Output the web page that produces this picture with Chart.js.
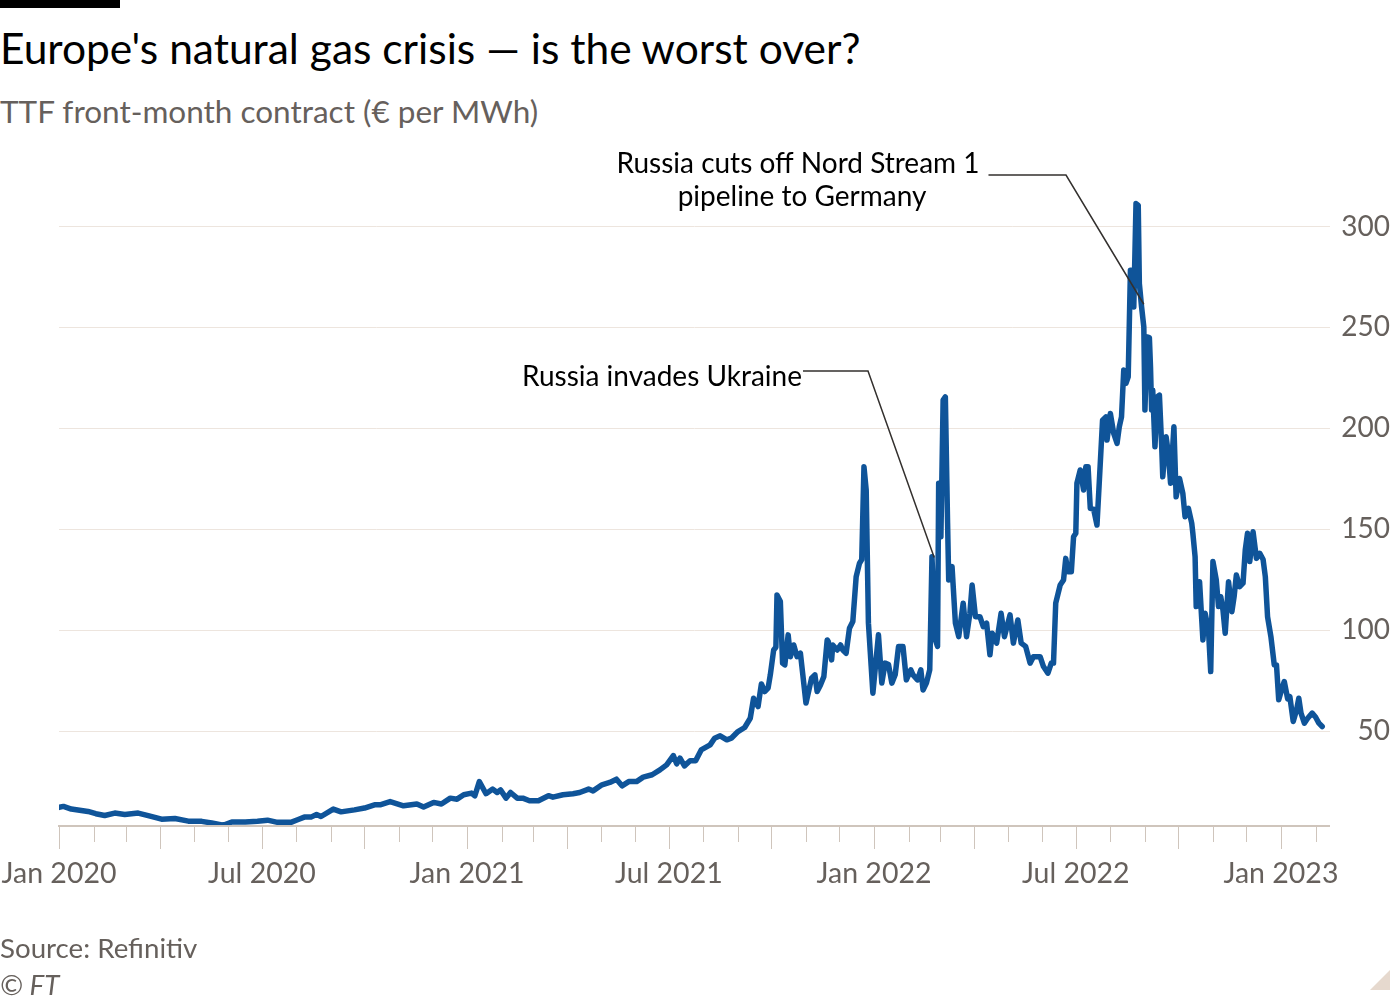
<!DOCTYPE html>
<html>
<head>
<meta charset="utf-8">
<script src="https://cdn.jsdelivr.net/npm/chart.js@4.4.1/dist/chart.umd.min.js"></script>
<style>
  html, body { margin: 0; padding: 0; background: #fff; }
  body { width: 1400px; height: 1000px; position: relative; overflow: hidden; font-family: Lato, "Noto Sans", sans-serif; }
  #chart { position: absolute; left: 0; top: 0; }
  .txt { position: absolute; left: 0; white-space: nowrap; line-height: 1; }
  #bar { position: absolute; left: 0; top: 0; width: 120px; height: 8px; background: #000; }
  #title { top: 27px; font-size: 42.5px; color: #000; }
  #subtitle { top: 96px; font-size: 31.5px; color: #66605c; }
  #source { top: 934px; font-size: 27.7px; color: #66605c; }
  #copy { top: 971px; font-size: 27.7px; color: #66605c; font-style: italic; }
  #corner { position: absolute; left: 1370px; top: 970px; width: 20px; height: 20px; background: #e6d9ce; clip-path: polygon(100% 0, 100% 100%, 0 100%); }
</style>
</head>
<body>
<div id="bar"></div>
<div id="title" class="txt">Europe's natural gas crisis — is the worst over?</div>
<div id="subtitle" class="txt">TTF front-month contract (€ per MWh)</div>
<canvas id="chart" width="1400" height="1000"></canvas>
<div id="source" class="txt">Source: Refinitiv</div>
<div id="copy" class="txt">© FT</div>
<div id="corner"></div>
<script>
// days since 1 Jan 2020
const dayIndex = [
  0, 4, 11, 26, 33, 41, 50, 59, 71, 80, 92, 104, 116, 128, 137, 146, 149, 155, 167, 178,
  187, 196, 208, 214, 220, 226, 231, 235, 246, 253, 265, 274, 283, 288, 297, 309, 321, 327, 336, 343,
  351, 357, 363, 370, 373, 377, 383, 389, 393, 396, 401, 405, 411, 416, 422, 430, 439, 443, 452, 461,
  467, 475, 479, 487, 494, 500, 505, 511, 518, 524, 532, 539, 545, 551, 554, 557, 561, 566, 571, 576,
  584, 588, 593, 599, 603, 609, 615, 620, 623, 627, 630, 633, 636, 638, 641, 643, 644, 647, 649, 651,
  654, 656, 659, 662, 665, 670, 675, 678, 680, 683, 686, 689, 690, 693, 694, 698, 701, 703, 706, 709,
  712, 715, 718, 720, 722, 724, 726, 730, 735, 738, 741, 744, 747, 750, 753, 757, 760, 764, 766, 770,
  773, 775, 778, 781, 783, 786, 788, 789, 791, 793, 795, 797, 798, 801, 804, 807, 811, 814, 817, 819,
  822, 826, 829, 832, 835, 837, 841, 845, 848, 853, 856, 860, 863, 867, 871, 874, 880, 883, 887, 890,
  892, 894, 898, 901, 903, 905, 908, 910, 912, 913, 916, 919, 921, 923, 925, 928, 931, 933, 936, 939,
  940, 943, 946, 949, 951, 953, 955, 957, 959, 961, 963, 964, 966, 968, 969, 971, 973, 974, 976, 978,
  979, 980, 981, 983, 985, 987, 989, 990, 993, 995, 997, 1000, 1002, 1005, 1008, 1010, 1013, 1016, 1017, 1019,
  1020, 1023, 1026, 1028, 1031, 1033, 1035, 1038, 1040, 1042, 1044, 1046, 1049, 1052, 1054, 1056, 1059, 1062, 1064, 1066,
  1068, 1071, 1074, 1077, 1080, 1082, 1084, 1087, 1090, 1092, 1094, 1097, 1099, 1102, 1104, 1107, 1110, 1112, 1114, 1117,
  1120, 1124, 1127, 1130, 1133
];
// € per MWh
const ttfPrice = [
  12.2, 12.7, 11.4, 10.2, 9.1, 8.2, 9.4, 8.7, 9.4, 8.1, 6.4, 6.7, 5.4, 5.3, 4.5, 3.5, 3.7, 5.0, 5.0, 5.4,
  5.9, 4.8, 4.8, 6.1, 7.4, 7.4, 8.7, 7.7, 11.4, 10.0, 11.0, 11.9, 13.5, 13.5, 15.1, 13.0, 13.9, 12.4, 14.7, 13.9,
  16.8, 16.3, 18.5, 19.3, 18.0, 25.0, 19.0, 21.3, 19.6, 20.9, 16.8, 19.6, 16.8, 16.8, 15.5, 15.5, 18.0, 17.3, 18.5, 19.0,
  19.6, 21.3, 20.4, 23.4, 24.6, 26.2, 22.9, 25.0, 25.0, 27.2, 28.4, 30.8, 33.3, 37.9, 33.8, 36.6, 32.8, 35.3, 35.3, 40.7,
  43.2, 46.5, 47.7, 45.7, 46.5, 49.8, 51.8, 56.4, 66.3, 62.2, 73.4, 69.6, 71.3, 77.9, 90.2, 91.6, 117.5, 114.2, 83.7, 82.8,
  97.7, 86.9, 92.7, 86.9, 88.6, 63.9, 76.2, 77.9, 69.6, 72.9, 77.0, 95.2, 94.4, 85.3, 92.7, 90.2, 92.7, 90.2, 88.6, 101.0,
  104.3, 126.5, 133.2, 135.0, 181.0, 169.5, 103.5, 68.8, 97.7, 73.8, 83.7, 83.0, 73.8, 77.9, 91.9, 91.9, 75.4, 80.4, 77.9, 75.4,
  80.4, 70.4, 73.8, 80.4, 136.4, 95.2, 92.0, 172.8, 146.3, 214.0, 215.6, 153.0, 124.9, 131.5, 103.5, 96.8, 113.4, 96.8, 108.4, 122.4,
  106.7, 106.7, 101.8, 103.5, 87.8, 98.5, 93.6, 108.4, 96.8, 107.6, 93.6, 105.1, 93.6, 92.0, 83.7, 86.9, 86.9, 82.0, 78.7, 83.7,
  83.7, 113.4, 122.4, 124.9, 135.6, 129.0, 129.0, 146.3, 148.0, 172.8, 179.4, 169.5, 181.0, 181.0, 160.4, 160.0, 152.1, 172.8, 204.1, 205.7,
  194.2, 207.4, 197.5, 192.6, 200.8, 205.7, 228.9, 222.3, 225.5, 278.4, 278.0, 260.2, 311.4, 310.5, 271.8, 260.2, 250.3, 209.1, 245.3, 245.0,
  230.5, 209.1, 219.0, 190.9, 215.6, 216.5, 191.7, 176.0, 195.8, 187.6, 172.8, 200.8, 166.1, 175.2, 167.8, 156.2, 160.4, 153.0, 148.0, 136.4,
  111.7, 124.0, 95.2, 108.4, 100.1, 79.5, 134.0, 124.9, 111.7, 116.6, 110.0, 98.5, 124.0, 109.2, 116.6, 127.4, 121.6, 123.3, 139.8, 148.0,
  134.0, 148.8, 135.6, 138.1, 135.0, 126.5, 106.7, 96.8, 82.8, 82.8, 65.5, 71.3, 74.6, 66.0, 67.1, 54.8, 60.5, 66.3, 58.9, 54.0,
  56.4, 58.9, 57.0, 54.0, 52.3
];

const xTickDays = [0, 182, 366, 547, 731, 912, 1096];
const xTickLabels = ['Jan 2020', 'Jul 2020', 'Jan 2021', 'Jul 2021', 'Jan 2022', 'Jul 2022', 'Jan 2023'];
const yTickValues = [50, 100, 150, 200, 250, 300];

// annotations: text lines, anchor day, anchor value
const noteNordStream = { lines: ['Russia cuts off Nord Stream 1', 'pipeline to Germany'], day: 973, value: 261.5 };
const noteUkraine = { lines: ['Russia invades Ukraine'], day: 785, value: 136 };

const FONT = 'Lato, "Noto Sans", sans-serif';
const GREY = '#66605c';

// month starts from Jan 2020 to Feb 2023, as day offsets
const monthStarts = [];
for (let m = 0; m <= 37; m++) {
  const d = (Date.UTC(2020, m, 1) - Date.UTC(2020, 0, 1)) / 86400000;
  monthStarts.push({ day: d, quarter: m % 3 === 0 });
}

const axisPlugin = {
  id: 'axisAndNotes',
  afterDatasetsDraw(chart) {
    const { ctx, chartArea, scales } = chart;
    const xs = scales.x, ys = scales.y;
    ctx.save();
    // axis line and month ticks
    ctx.strokeStyle = '#cfc5bc';
    ctx.lineWidth = 2;
    ctx.beginPath();
    ctx.moveTo(chartArea.left - 1, chartArea.bottom);
    ctx.lineTo(chartArea.right, chartArea.bottom);
    ctx.stroke();
    ctx.lineWidth = 1;
    monthStarts.forEach(m => {
      const px = Math.round(xs.getPixelForValue(m.day)) + 0.5;
      if (px > chartArea.right) return;
      ctx.beginPath();
      ctx.moveTo(px, chartArea.bottom);
      ctx.lineTo(px, chartArea.bottom + (m.quarter ? 23 : 16));
      ctx.stroke();
    });

    // annotations
    ctx.font = '28px ' + FONT;
    ctx.fillStyle = '#000';
    ctx.strokeStyle = '#33302e';
    ctx.lineWidth = 1.5;
    ctx.textBaseline = 'middle';

    // Nord Stream
    let ax = xs.getPixelForValue(noteNordStream.day);
    let ay = ys.getPixelForValue(noteNordStream.value);
    ctx.textAlign = 'center';
    ctx.fillText(noteNordStream.lines[0], 798, 164);
    ctx.fillText(noteNordStream.lines[1], 802, 197);
    const w = ctx.measureText(noteNordStream.lines[0]).width;
    ctx.beginPath();
    ctx.moveTo(798 + w / 2 + 9, 175);
    ctx.lineTo(1066, 175);
    ctx.lineTo(ax, ay);
    ctx.stroke();

    // Ukraine
    ax = xs.getPixelForValue(noteUkraine.day);
    ay = ys.getPixelForValue(noteUkraine.value);
    ctx.textAlign = 'right';
    ctx.fillText(noteUkraine.lines[0], 802, 377);
    ctx.beginPath();
    ctx.moveTo(803, 371);
    ctx.lineTo(868, 371);
    ctx.lineTo(ax, ay);
    ctx.stroke();
    ctx.restore();
  }
};

new Chart(document.getElementById('chart'), {
  type: 'line',
  data: {
    datasets: [{
      data: dayIndex.map((d, i) => ({ x: d, y: ttfPrice[i] })),
      borderColor: '#0f5499',
      borderWidth: 5.5,
      pointRadius: 0,
      tension: 0,
      borderJoinStyle: 'round',
      borderCapStyle: 'round'
    }]
  },
  options: {
    responsive: false,
    animation: false,
    events: [],
    layout: { padding: { left: 59, right: 10, top: 166, bottom: 114 } },
    plugins: { legend: { display: false }, tooltip: { enabled: false } },
    scales: {
      x: {
        type: 'linear',
        min: 0,
        max: 1140,
        grid: { display: false, drawTicks: false },
        border: { display: false },
        afterBuildTicks: s => { s.ticks = xTickDays.map(v => ({ value: v })); },
        afterFit: s => { s.height = 60; s.paddingLeft = 0; s.paddingRight = 0; },
        ticks: {
          autoSkip: false,
          maxRotation: 0,
          padding: 31,
          color: GREY,
          font: { family: FONT, size: 28.5 },
          callback: v => xTickLabels[xTickDays.indexOf(v)] || ''
        }
      },
      y: {
        position: 'right',
        min: 3,
        max: 330,
        grid: { color: '#ede5de', lineWidth: 1, drawTicks: false },
        border: { display: false },
        afterBuildTicks: s => { s.ticks = yTickValues.map(v => ({ value: v })); },
        afterFit: s => { s.width = 60; s.paddingTop = 0; s.paddingBottom = 0; },
        ticks: {
          crossAlign: 'far',
          padding: 0,
          color: GREY,
          font: { family: FONT, size: 28 }
        }
      }
    }
  },
  plugins: [axisPlugin]
});
</script>
</body>
</html>
